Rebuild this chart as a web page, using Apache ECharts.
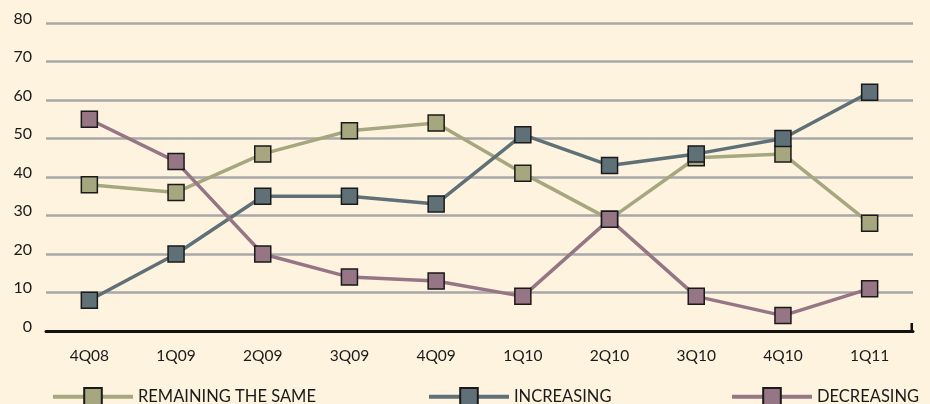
<!DOCTYPE html>
<html>
<head>
<meta charset="utf-8">
<script src="https://cdn.jsdelivr.net/npm/echarts@6/dist/echarts.min.js"></script>
<style>
  html, body { margin: 0; padding: 0; background: #FDF3DF; }
  #chart { width: 930px; height: 404px; }
</style>
</head>
<body>
<div id="chart"></div>
<script>
// Quarterly survey responses (percent)
const quarters = ['4Q08', '1Q09', '2Q09', '3Q09', '4Q09', '1Q10', '2Q10', '3Q10', '4Q10', '1Q11'];
const remainingSame = [38, 36, 46, 52, 54, 41, 29, 45, 46, 28];
const increasing = [8, 20, 35, 35, 33, 51, 43, 46, 50, 62];
const decreasing = [55, 44, 20, 14, 13, 9, 29, 9, 4, 11];
const yTicks = [0, 10, 20, 30, 40, 50, 60, 70, 80];

const FONT = 'Lato, "DejaVu Sans", sans-serif';
const colors = { same: '#A7A77F', inc: '#5F7177', dec: '#967585' };

function lineSeries(name, data, color) {
  return {
    name, type: 'line', data,
    symbol: 'rect', symbolSize: 16,
    lineStyle: { color, width: 3.5 },
    itemStyle: { color, borderColor: '#1a1a1a', borderWidth: 1.5 },
    emphasis: { disabled: true },
    animation: false
  };
}

function legendAt(name, left) {
  return {
    data: [name], left, top: 382,
    itemWidth: 80, itemHeight: 22, itemGap: 14,
    lineStyle: { width: 4 },
    textStyle: { fontFamily: FONT, fontSize: 16.5, color: '#1a1a1a' },
    selectedMode: false
  };
}

const chart = echarts.init(document.getElementById('chart'));
chart.setOption({
  backgroundColor: '#FDF3DF',
  grid: { left: 46, right: 17, top: 23, bottom: 73 },
  xAxis: {
    type: 'category', data: quarters, boundaryGap: true,
    axisLine: { lineStyle: { color: '#111', width: 3 } },
    axisTick: { show: false },
    axisLabel: { fontFamily: FONT, fontSize: 15.5, color: '#1a1a1a', margin: 17 }
  },
  yAxis: {
    type: 'value', min: yTicks[0], max: yTicks[yTicks.length - 1], interval: 10,
    axisLine: { show: false }, axisTick: { show: false },
    axisLabel: { fontFamily: FONT, fontSize: 16, color: '#1a1a1a', margin: 14,
      verticalAlign: 'bottom', lineHeight: 9 },
    splitLine: { lineStyle: { color: '#A9A9A9', width: 2.5 } }
  },
  // small end tick closing the category axis on the right
  graphic: [{
    type: 'rect', right: 17, bottom: 72,
    shape: { width: 2.5, height: 9 },
    style: { fill: '#111' }
  }],
  legend: [
    legendAt('REMAINING THE SAME', 46),
    legendAt('INCREASING', 422),
    legendAt('DECREASING', 725)
  ],
  series: [
    lineSeries('REMAINING THE SAME', remainingSame, colors.same),
    lineSeries('INCREASING', increasing, colors.inc),
    lineSeries('DECREASING', decreasing, colors.dec)
  ]
});
</script>
</body>
</html>
